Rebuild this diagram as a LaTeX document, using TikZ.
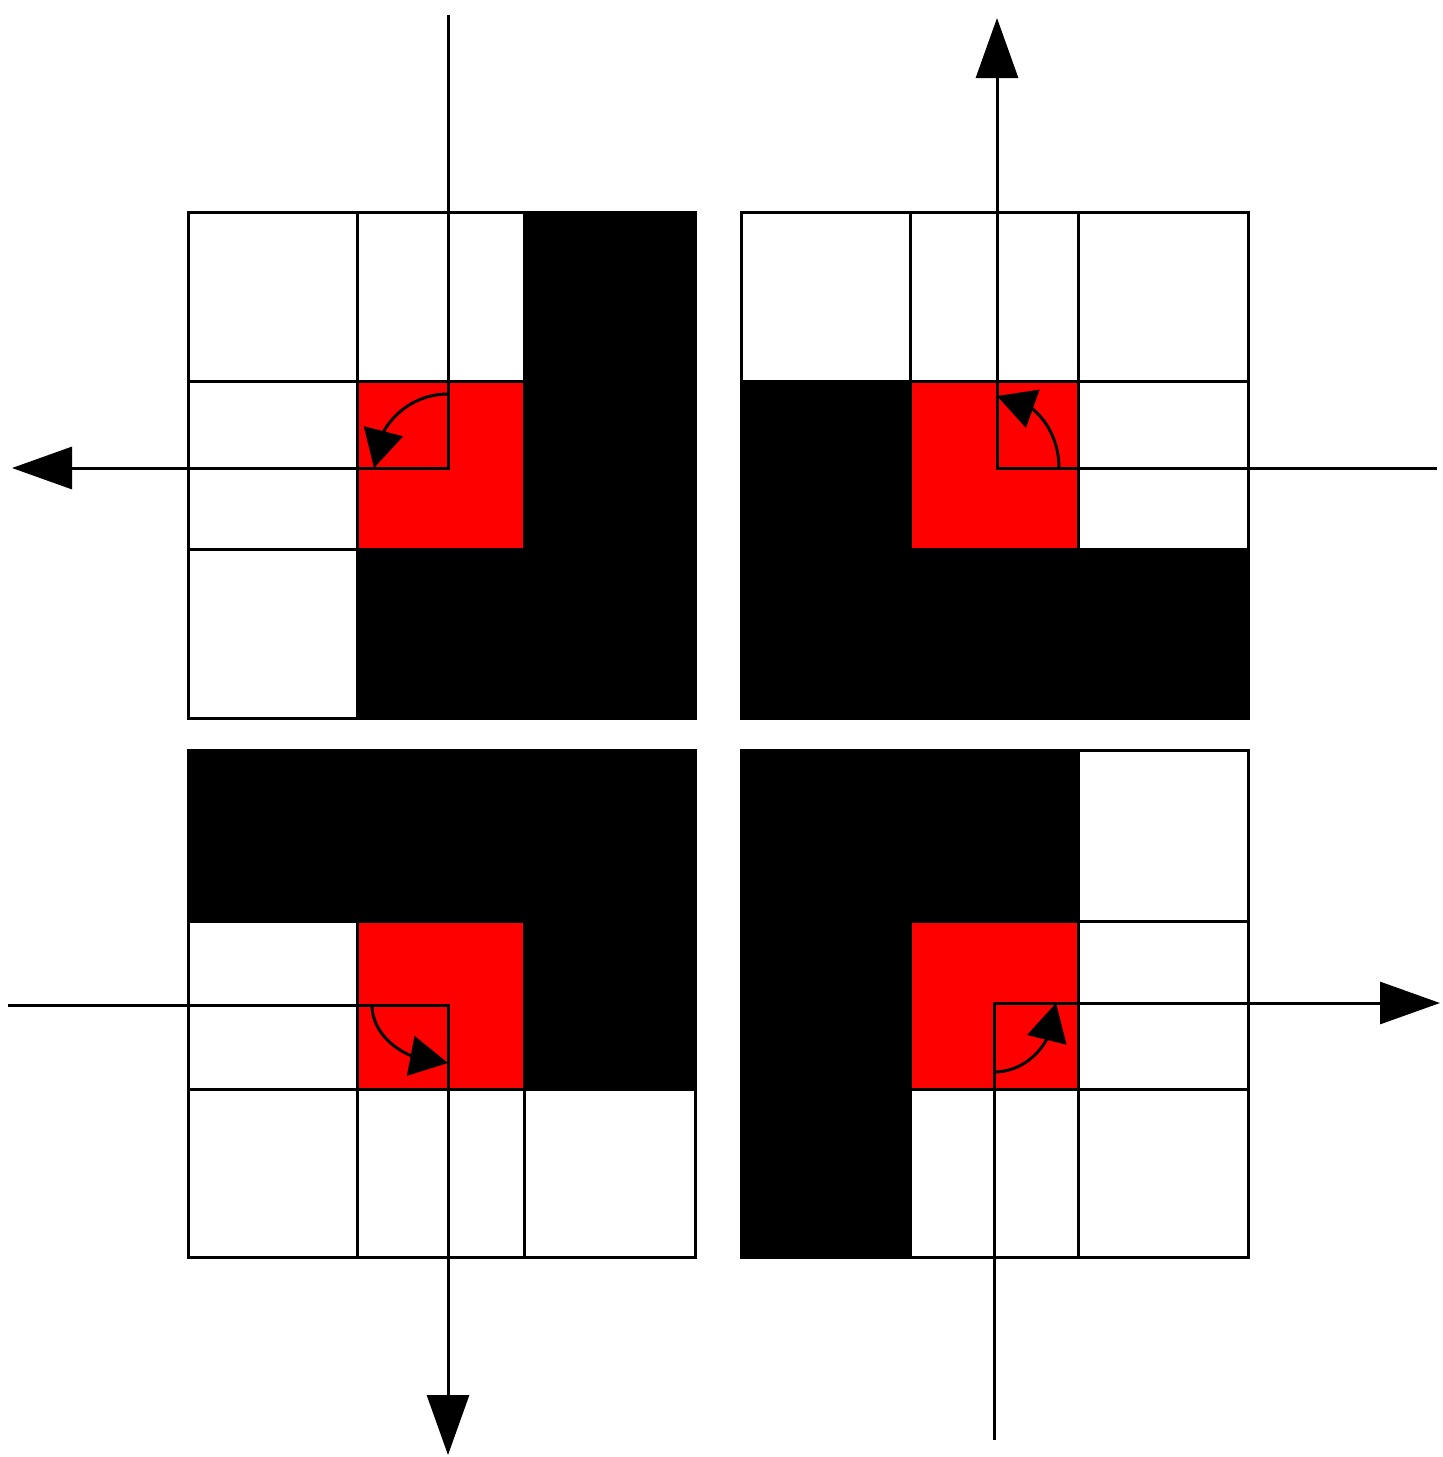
\documentclass[tikz,border=0pt]{standalone}
\usetikzlibrary{arrows.meta,bending}
\begin{document}
\begin{tikzpicture}[x=0.5pt,y=-0.5pt,
  gridline/.style={line width=1.5pt},
  ray/.style={line width=1.5pt,-{Triangle[length=30pt,width=21pt]}},
  turn/.style={line width=1.5pt,-{Triangle[length=19pt,width=20pt,flex=1]}}]
\useasboundingbox (0,0) rectangle (1442,1457);
% ---------- top-left grid ----------
\fill[black] (524,212) rectangle (695,718);
\fill[black] (357,549) rectangle (695,718);
\fill[red] (357,381) rectangle (524,549);
\draw[gridline] (188,212) rectangle (695,718)
  (357,212) -- (357,718) (524,212) -- (524,718)
  (188,381) -- (695,381) (188,549) -- (695,549);
% ---------- top-right grid ----------
\fill[black] (741,381) rectangle (910,718);
\fill[black] (741,549) rectangle (1248,718);
\fill[red] (910,381) rectangle (1078,549);
\draw[gridline] (741,212) rectangle (1248,718)
  (910,212) -- (910,718) (1078,212) -- (1078,718)
  (741,381) -- (1248,381) (741,549) -- (1248,549);
% ---------- bottom-left grid ----------
\fill[black] (188,750) rectangle (695,921);
\fill[black] (524,750) rectangle (695,1089);
\fill[red] (357,921) rectangle (524,1089);
\draw[gridline] (188,750) rectangle (695,1257)
  (357,750) -- (357,1257) (524,750) -- (524,1257)
  (188,921) -- (695,921) (188,1089) -- (695,1089);
% ---------- bottom-right grid ----------
\fill[black] (741,750) rectangle (910,1257);
\fill[black] (741,750) rectangle (1078,921);
\fill[red] (910,921) rectangle (1078,1089);
\draw[gridline] (741,750) rectangle (1248,1257)
  (910,750) -- (910,1257) (1078,750) -- (1078,1257)
  (741,921) -- (1248,921) (741,1089) -- (1248,1089);
% ---------- rays ----------
\coordinate (tlin) at (448,15);
\coordinate (tlc) at (448,468);
\coordinate (tlout) at (12,468);
\coordinate (tla) at (448,394);
\draw[ray] (tlin) -- (tlc) -- (tlout);
\draw[turn] (tla) arc[start angle=-90,end angle=-180,radius=74];

\coordinate (trin) at (1437,468);
\coordinate (trc) at (997,468);
\coordinate (trout) at (997,18);
\coordinate (tra) at (1059,468);
\draw[ray] (trin) -- (trc) -- (trout);
\draw[turn] (tra) arc[start angle=0,end angle=-90,x radius=62,y radius=72];

\coordinate (blin) at (8,1005);
\coordinate (blc) at (448,1005);
\coordinate (blout) at (448,1455);
\coordinate (bla) at (372,1005);
\draw[ray] (blin) -- (blc) -- (blout);
\draw[turn] (bla) arc[start angle=180,end angle=90,x radius=76,y radius=58];

\coordinate (brin) at (994,1440);
\coordinate (brc) at (994,1003);
\coordinate (brout) at (1440,1003);
\coordinate (bra) at (994,1072);
\draw[ray] (brin) -- (brc) -- (brout);
\draw[turn] (bra) arc[start angle=90,end angle=0,x radius=62,y radius=69];
\end{tikzpicture}
\end{document}
